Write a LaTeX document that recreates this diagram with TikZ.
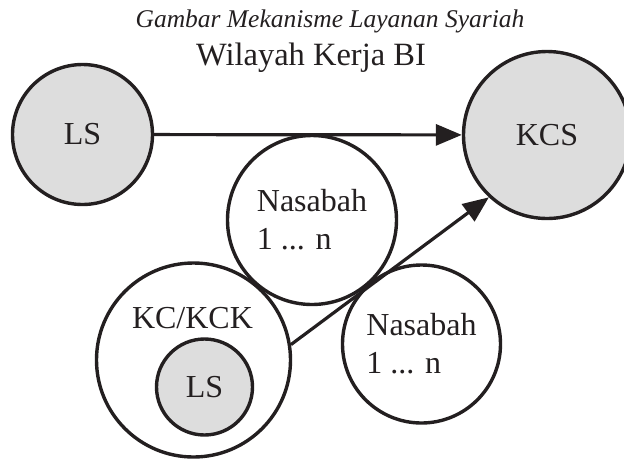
\documentclass[tikz,border=0pt]{standalone}
\usepackage{fontspec}
\setmainfont{Liberation Serif}
\usetikzlibrary{arrows.meta}
\definecolor{lsgray}{RGB}{221,221,221}
\definecolor{ink}{RGB}{35,31,32}
\begin{document}
\begin{tikzpicture}[x=1pt,y=-1pt,
  ring/.style={circle, draw=ink, line width=3.4pt, inner sep=0pt},
  grayring/.style={ring, fill=lsgray},
  lbl/.style={font=\fontsize{32}{38}\selectfont, text=ink, align=left},
  arr/.style={draw=ink, line width=3.2pt, -{Triangle[length=26pt,width=21pt]}}]
\useasboundingbox (0,0) rectangle (624,459);
% titles
\node[font=\itshape\fontsize{25.5}{30}\selectfont, text=ink, anchor=base] (title) at (330,27) {Gambar Mekanisme Layanan Syariah};
\node[font=\fontsize{32.5}{36}\selectfont, text=ink, anchor=base] (region) at (311,65) {Wilayah Kerja BI};
% circles
\node[grayring, minimum size=140pt, lbl] (ls) at (82.5,134.5) {LS};
\node[grayring, minimum size=167pt, lbl] (kcs) at (547,135) {KCS};
\node[ring, minimum size=169pt, lbl] (nas1) at (312,220) {Nasabah\\1 ... n};
\node[ring, minimum size=194pt] (kc) at (193.5,360) {};
\node[lbl, anchor=base] (kclabel) at (192.5,328) {KC/KCK};
\node[grayring, minimum size=96pt, lbl] (lsin) at (204.5,387) {LS};
\node[ring, minimum size=158pt, lbl] (nas2) at (421.5,344) {Nasabah\\1 ... n};
% connectors
\draw[arr] (ls) -- (kcs);
\draw[arr] (kc.9.6) -- (kcs.227);
\end{tikzpicture}
\end{document}
